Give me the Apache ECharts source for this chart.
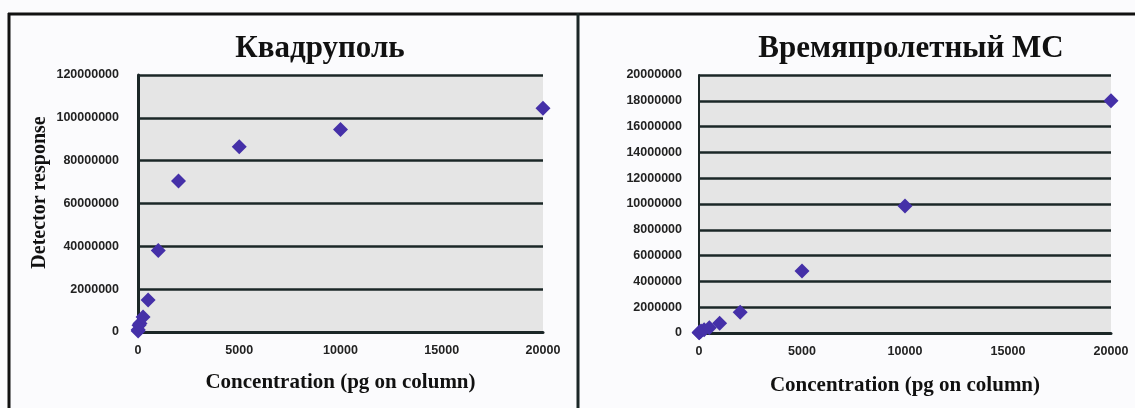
<!DOCTYPE html>
<html>
<head>
<meta charset="utf-8">
<script src="https://cdn.jsdelivr.net/npm/echarts@6/dist/echarts.min.js"></script>
<style>
html,body{margin:0;padding:0;background:#fbfbfd;}
#c{width:1135px;height:408px;}
</style>
</head>
<body>
<div id="c"></div>
<script>
// ---- data ----
const titleLeft = 'Квадруполь';
const titleRight = 'Времяпролетный МС';
const xAxisName = 'Concentration (pg on column)';
const yAxisNameLeft = 'Detector response';

const quadX = [5, 10, 50, 100, 250, 500, 1000, 2000, 5000, 10000, 20000];
const quadY = [500000, 1000000, 3200000, 4000000, 7000000, 15000000, 38000000, 70500000, 86500000, 94500000, 104500000];

const tofX = [5, 10, 50, 100, 250, 500, 1000, 2000, 5000, 10000, 20000];
const tofY = [20000, 40000, 100000, 150000, 260000, 400000, 750000, 1600000, 4800000, 9850000, 18000000];

const xTickLabels = ['0', '5000', '10000', '15000', '20000'];
const yTickLabelsLeft = ['0', '2000000', '40000000', '60000000', '80000000', '100000000', '120000000'];
const yTickLabelsRight = ['0', '2000000', '4000000', '6000000', '8000000', '10000000', '12000000', '14000000', '16000000', '18000000', '20000000'];

// ---- chart ----
const chart = echarts.init(document.getElementById('c'));
const dark = '#1b2727';
const tickFont = {fontFamily: 'Liberation Sans', fontWeight: 'bold', fontSize: 12.5, color: '#222'};
const nameFont = {fontFamily: 'Liberation Serif', fontWeight: 'bold', fontSize: 21, color: '#111'};

function xAxis(gridIndex, gap) {
  return {
    type: 'value', gridIndex: gridIndex, min: 0, max: 20000, interval: 5000,
    name: xAxisName, nameLocation: 'middle', nameGap: gap, nameTextStyle: nameFont,
    axisLine: {show: true, onZero: false, lineStyle: {color: dark, width: 3}},
    axisTick: {show: false},
    splitLine: {show: false},
    axisLabel: Object.assign({margin: 12, formatter: v => xTickLabels[Math.round(v / 5000)]}, tickFont)
  };
}

const option = {
  animation: false,
  backgroundColor: '#fbfbfd',
  title: [
    {text: titleLeft, left: 315, top: 28, textAlign: 'center',
     textStyle: {fontFamily: 'Liberation Serif', fontWeight: 'bold', fontSize: 31, color: '#111'}},
    {text: titleRight, left: 906, top: 28, textAlign: 'center',
     textStyle: {fontFamily: 'Liberation Serif', fontWeight: 'bold', fontSize: 31, color: '#111'}}
  ],
  grid: [
    {left: 138, right: 592, top: 75, bottom: 76, show: true, backgroundColor: '#e5e5e5', borderWidth: 0},
    {left: 699, right: 24, top: 75, bottom: 75, show: true, backgroundColor: '#e5e5e5', borderWidth: 0}
  ],
  xAxis: [xAxis(0, 40), xAxis(1, 42)],
  yAxis: [
    {
      type: 'value', gridIndex: 0, min: 0, max: 120000000, interval: 20000000,
      name: yAxisNameLeft, nameLocation: 'middle', nameGap: 88, nameRotate: 90,
      nameTextStyle: Object.assign({}, nameFont, {fontSize: 20, padding: [0, 0, 0, 22]}),
      axisLine: {show: true, lineStyle: {color: dark, width: 3}},
      axisTick: {show: false},
      splitLine: {show: true, lineStyle: {color: dark, width: 2.5}},
      axisLabel: Object.assign({margin: 19, formatter: v => yTickLabelsLeft[Math.round(v / 20000000)]}, tickFont)
    },
    {
      type: 'value', gridIndex: 1, min: 0, max: 20000000, interval: 2000000,
      axisLine: {show: true, lineStyle: {color: dark, width: 2}},
      axisTick: {show: false},
      splitLine: {show: true, lineStyle: {color: dark, width: 2.5}},
      axisLabel: Object.assign({margin: 17, formatter: v => yTickLabelsRight[Math.round(v / 2000000)]}, tickFont)
    }
  ],
  series: [
    {type: 'scatter', xAxisIndex: 0, yAxisIndex: 0, symbol: 'diamond', symbolSize: 15, clip: false,
     itemStyle: {color: '#4530a8', opacity: 1}, data: quadX.map((x, i) => [x, quadY[i]])},
    {type: 'scatter', xAxisIndex: 1, yAxisIndex: 1, symbol: 'diamond', symbolSize: 15, clip: false,
     itemStyle: {color: '#4530a8', opacity: 1}, data: tofX.map((x, i) => [x, tofY[i]])}
  ],
  graphic: [
    {type: 'line', shape: {x1: 8, y1: 14, x2: 1135, y2: 14}, style: {stroke: '#111', lineWidth: 3}},
    {type: 'line', shape: {x1: 9, y1: 13, x2: 9, y2: 408}, style: {stroke: '#111', lineWidth: 3}},
    {type: 'line', shape: {x1: 578, y1: 13, x2: 578, y2: 408}, style: {stroke: '#1b2727', lineWidth: 3}}
  ]
};
chart.setOption(option);
</script>
</body>
</html>
